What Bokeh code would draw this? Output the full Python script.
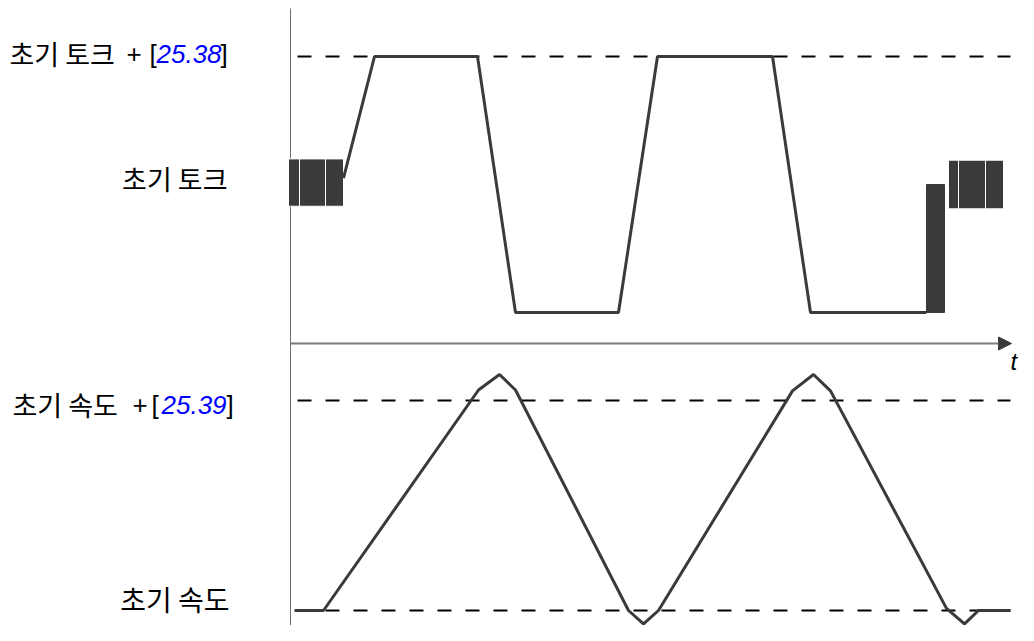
from bokeh.plotting import figure
from bokeh.models import Range1d, Arrow, NormalHead
from bokeh.core.properties import value
from bokeh.embed import file_html
from bokeh.resources import INLINE

# ---- data (time in arbitrary units, t=0 at the vertical axis) ----
# torque: 0 = low torque, 1 = initial torque, 2 = initial torque + [25.38]
torque_t = [5.3, 8.4, 18.7, 22.5, 32.8, 36.7, 48.2, 52.0, 63.6]
torque_v = [1.05, 2.0, 2.0, 0.0, 0.0, 2.0, 2.0, 0.0, 0.0]

# oscillating torque blocks (start / end) drawn as filled bands
block_left = [-0.2, 0.9, 3.5, 65.8, 66.8, 69.5]
block_right = [0.9, 3.5, 5.3, 66.8, 69.5, 71.3]
block_top = [1.20, 1.20, 1.20, 1.19, 1.19, 1.19]
block_bottom = [0.83, 0.83, 0.83, 0.81, 0.81, 0.81]
bar_left = [63.6]
bar_right = [65.4]
bar_top = [1.0]
bar_bottom = [0.0]

# speed: 0 = initial speed, 1 = initial speed + [25.39]
speed_t = [0.4, 3.3, 18.8, 20.9, 22.5, 33.8, 35.3, 36.8, 50.2, 52.3, 54.0, 65.6, 67.4, 68.8, 72.0]
speed_v = [0.0, 0.0, 1.05, 1.124, 1.05, 0.0, -0.064, 0.0, 1.046, 1.124, 1.046, 0.01, -0.064, 0.0, 0.0]

torque_ref = [2.0]
speed_ref = [1.0, 0.0]

LINE = "#3a3a3c"
KR = "Noto Sans CJK KR"
LAT = "Liberation Sans"

p = figure(width=1018, height=625, output_backend="svg", toolbar_location=None,
           x_range=Range1d(-29.0, 72.8), y_range=Range1d(-2.4453, 2.4375),
           x_axis_location=None, y_axis_location=None, min_border=0)
p.extra_y_ranges = {"speed": Range1d(-0.0714, 2.9048)}
p.grid.visible = False
p.outline_line_color = None
p.background_fill_color = "white"
p.border_fill_color = "white"

# vertical axis
p.segment(x0=[0], x1=[0], y0=[2.375], y1=[-3.0], line_color="#6e6e6e", line_width=1)
# time axis with arrow
p.add_layout(Arrow(x_start=0, y_start=-0.242, x_end=72.1, y_end=-0.242,
                   line_color="#7a7a7a", line_width=2,
                   end=NormalHead(size=13, fill_color=LINE, line_color=LINE)))

# reference dashed lines
p.segment(x0=[0.7], x1=[72.0], y0=torque_ref, y1=torque_ref,
          line_color="black", line_width=2, line_dash="14 14")
p.segment(x0=[0.7, 0.7], x1=[72.0, 72.0], y0=speed_ref, y1=speed_ref,
          line_color="black", line_width=2, line_dash="14 14", y_range_name="speed")

# torque
p.quad(left=block_left, right=block_right, top=block_top, bottom=block_bottom,
       fill_color=LINE, line_color="white", line_width=1)
p.quad(left=bar_left, right=bar_right, top=bar_top, bottom=bar_bottom,
       fill_color=LINE, line_color=LINE, line_width=1)
p.line(torque_t, torque_v, line_color=LINE, line_width=3)

# speed
p.line(speed_t, speed_v, line_color=LINE, line_width=3, y_range_name="speed")

# labels
def txt(x, y, s, font=KR, color="black", style="normal", align="left", size="27px", yr="default"):
    p.text(x=[x], y=[y], text=[s], text_color=color, text_font=value(font),
           text_font_style=style, text_align=align, text_baseline="middle",
           text_font_size=size, y_range_name=yr)

# torque labels (visual centre y ~ 53 px and 178 px)
T1 = (312 - 53) / 128
T2 = (312 - 178) / 128
txt(-28.1, T1, "초기 토크")
txt(-16.4, T1, "+", font=LAT, size="26px")
txt(-14.1, T1, "[", font=LAT, size="26px")
txt(-13.4, T1, "25.38", font=LAT, color="#0000ff", style="italic", size="26px")
txt(-7.0, T1, "]", font=LAT, size="26px")
txt(-6.3, T2, "초기 토크", align="right")

# speed labels
S1 = (610 - 404) / 210
S0 = (610 - 598) / 210
txt(-27.8, S1, "초기 속도", yr="speed")
txt(-15.8, S1, "+", font=LAT, size="26px", yr="speed")
txt(-13.9, S1, "[", font=LAT, size="26px", yr="speed")
txt(-12.9, S1, "25.39", font=LAT, color="#0000ff", style="italic", size="26px", yr="speed")
txt(-6.4, S1, "]", font=LAT, size="26px", yr="speed")
txt(-6.1, S0, "초기 속도", align="right", size="28px", yr="speed")

txt(72.0, (312 - 361) / 128, "t", font=LAT, style="italic", size="24px")

open("out.html", "w").write(file_html(p, INLINE))
